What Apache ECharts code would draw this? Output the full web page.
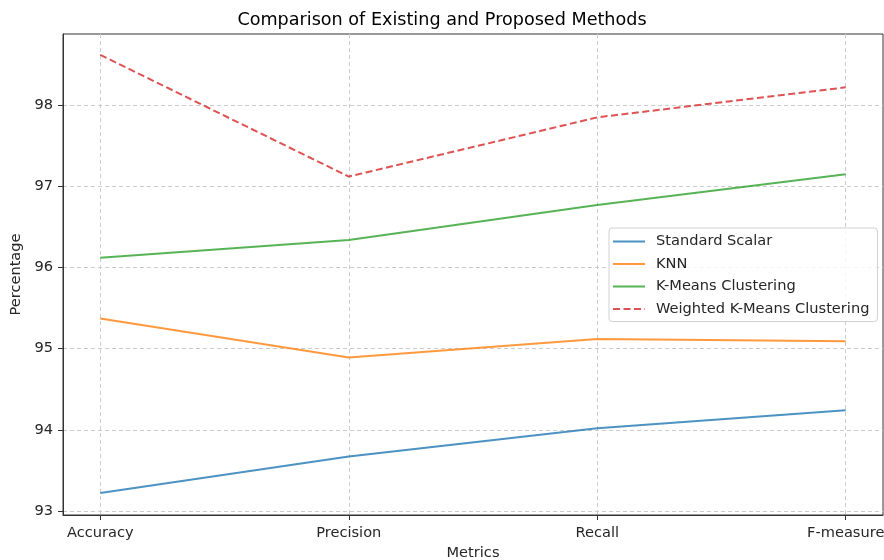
<!DOCTYPE html>
<html>
<head>
<meta charset="utf-8">
<script src="https://cdn.jsdelivr.net/npm/echarts@6/dist/echarts.min.js"></script>
<style>html,body{margin:0;padding:0;background:#fff}#c{width:884px;height:560px}</style>
</head>
<body>
<div id="c"></div>
<script>
const categories = ['Accuracy', 'Precision', 'Recall', 'F-measure'];
const seriesNames = ['Standard Scalar', 'KNN', 'K-Means Clustering', 'Weighted K-Means Clustering'];
const standardScalar = [93.22, 93.67, 94.02, 94.24];
const knn = [95.37, 94.89, 95.12, 95.09];
const kmeans = [96.12, 96.34, 96.77, 97.15];
const weightedKmeans = [98.62, 97.12, 97.85, 98.22];
const yTicks = [93, 94, 95, 96, 97, 98];

const allValues = [standardScalar, knn, kmeans, weightedKmeans];
const colors = ['rgba(31,119,180,0.8)', 'rgba(255,127,14,0.8)', 'rgba(44,160,44,0.8)', 'rgba(214,39,40,0.8)'];
const font = 'DejaVu Sans';
const fs = 14.6;

const series = allValues.map((vals, i) => ({
  name: seriesNames[i],
  type: 'line',
  symbol: 'none',
  data: vals.map((v, j) => [j, v]),
  lineStyle: { color: colors[i], width: 2, type: i === 3 ? [7, 3.5] : 'solid' },
  itemStyle: { color: colors[i] },
  emphasis: { disabled: true },
  z: 3
}));

const chart = echarts.init(document.getElementById('c'), null, { renderer: 'canvas' });
chart.setOption({
  animation: false,
  backgroundColor: '#fff',
  title: {
    text: 'Comparison of Existing and Proposed Methods',
    left: 'center', top: 6,
    textStyle: { fontFamily: font, fontSize: 17.6, fontWeight: 'normal', color: '#000' }
  },
  grid: { left: 63, right: 1, top: 34, bottom: 45, containLabel: false, outerBoundsMode: 'none', show: true, borderColor: '#333', borderWidth: 1, backgroundColor: 'transparent' },
  legend: {
    orient: 'vertical', left: 609, top: 228,
    itemWidth: 32, itemHeight: 14, itemGap: 7.5,
    padding: [6, 8, 5, 3],
    borderColor: '#d0d0d0', borderWidth: 1, borderRadius: 3,
    backgroundColor: 'rgba(255,255,255,0.8)',
    itemStyle: { opacity: 0 },
    textStyle: { fontFamily: font, fontSize: fs, color: '#262626', padding: [0, 0, 0, 6] },
    data: seriesNames
  },
  xAxis: {
    type: 'value', min: -0.15, max: 3.15,
    name: 'Metrics', nameLocation: 'middle', nameGap: 31,
    nameTextStyle: { fontFamily: font, fontSize: fs, color: '#262626' },
    axisLine: { show: true, onZero: false, lineStyle: { color: '#333', width: 1 } },
    axisTick: { show: true, length: 5, lineStyle: { color: '#333' }, customValues: [0, 1, 2, 3] },
    axisLabel: { fontFamily: font, fontSize: fs, color: '#262626', margin: 11, customValues: [0, 1, 2, 3], formatter: v => categories[Math.round(v)] },
    splitLine: { show: true, lineStyle: { color: '#cccccc', type: [4, 3], width: 1 } }
  },
  yAxis: {
    type: 'value', min: 92.95, max: 98.877,
    name: 'Percentage', nameLocation: 'middle', nameGap: 37, nameRotate: 90,
    nameTextStyle: { fontFamily: font, fontSize: fs, color: '#262626' },
    axisLine: { show: true, onZero: false, lineStyle: { color: '#333', width: 1 } },
    axisTick: { show: true, length: 5, lineStyle: { color: '#333' }, customValues: yTicks },
    axisLabel: { fontFamily: font, fontSize: fs, color: '#262626', margin: 10, customValues: yTicks, formatter: v => String(Math.round(v)) },
    splitLine: { show: true, lineStyle: { color: '#cccccc', type: [4, 3], width: 1 } }
  },
  series: series
});
</script>
</body>
</html>
